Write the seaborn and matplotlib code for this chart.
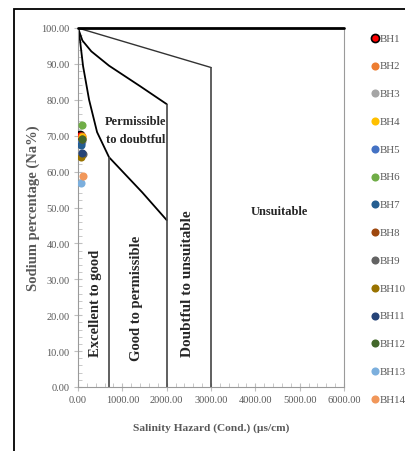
import matplotlib
matplotlib.use("Agg")
import matplotlib.pyplot as plt
import seaborn as sns
from matplotlib.patches import Rectangle
from matplotlib.ticker import MultipleLocator, FormatStrFormatter

# -------------------------------
# Data
# -------------------------------
wells = ["BH1", "BH2", "BH3", "BH4", "BH5", "BH6", "BH7",
         "BH8", "BH9", "BH10", "BH11", "BH12", "BH13", "BH14"]
cond = [40, 100, 90, 80, 60, 80, 70, 100, 110, 60, 80, 90, 60, 120]
na_pct = [70.3, 70.0, 68.5, 69.5, 68.0, 73.0, 67.5,
          69.0, 65.0, 64.0, 65.2, 69.2, 56.8, 58.8]
colors = ["#FF0000", "#ED7D31", "#A5A5A5", "#FFC000", "#4472C4", "#70AD47", "#255E91",
          "#9E480E", "#636363", "#997300", "#264478", "#43682B", "#7CAFDD", "#F1975A"]

# Wilcox diagram boundary lines
b1_x = [0, 45, 114, 250, 430, 700, 1450, 2000]
b1_y = [100, 96.6, 89.4, 80.0, 71.0, 64.0, 54.2, 46.5]
b2_x = [0, 100, 300, 700, 1400, 2000]
b2_y = [100, 96.5, 93.5, 89.5, 83.8, 78.8]
b3_x = [0, 3000]
b3_y = [100, 89]
top_x = [0, 6000]
top_y = [100, 100]
vlines_x = [700, 2000, 3000]
vlines_top = [64.0, 78.8, 89.0]

GREY = "#595959"
SERIF = ["Liberation Serif", "DejaVu Serif"]

sns.set_style("white")
plt.rcParams["font.family"] = SERIF

fig = plt.figure(figsize=(4.05, 4.52), dpi=100)
ax = fig.add_axes([78 / 405, 1 - 388 / 452, 266 / 405, 359 / 452])

# boundaries
sns.lineplot(x=b1_x, y=b1_y, ax=ax, color="black", linewidth=1.3, sort=False, estimator=None)
sns.lineplot(x=b2_x, y=b2_y, ax=ax, color="black", linewidth=1.3, sort=False, estimator=None)
sns.lineplot(x=b3_x, y=b3_y, ax=ax, color="#333333", linewidth=1.0, sort=False, estimator=None)
ax.plot(top_x, top_y, color="black", linewidth=2.0, clip_on=False, zorder=4)
ax.vlines(vlines_x, 0, vlines_top, color="#444444", linewidth=1.2)

# points
for w, x, y, c in zip(wells, cond, na_pct, colors):
    ec = "black" if w == "BH1" else c
    lw = 1.2 if w == "BH1" else 0
    sns.scatterplot(x=[x], y=[y], ax=ax, color=c, edgecolor=ec, linewidth=lw,
                    s=34, label=w, zorder=5)

# region labels
ax.text(1295, 71.6, "Permissible\nto doubtful", ha="center", va="center",
        fontsize=9, fontweight="bold", linespacing=1.7)
ax.text(386, 23.7, "Excellent to good", rotation=90, ha="center", va="center",
        fontsize=10.5, fontweight="bold")
ax.text(1318, 25, "Good to permissible", rotation=90, ha="center", va="center",
        fontsize=10.5, fontweight="bold")
ax.text(2477, 29, "Doubtful to unsuitable", rotation=90, ha="center", va="center",
        fontsize=11, fontweight="bold")
ax.text(4545, 49, "Unsuitable", ha="center", va="center",
        fontsize=9, fontweight="bold")

# axes
ax.set_xlim(0, 6000)
ax.set_ylim(0, 100)
ax.xaxis.set_major_locator(MultipleLocator(1000))
ax.xaxis.set_minor_locator(MultipleLocator(200))
ax.yaxis.set_major_locator(MultipleLocator(10))
ax.yaxis.set_minor_locator(MultipleLocator(2))
ax.xaxis.set_major_formatter(FormatStrFormatter("%.2f"))
ax.yaxis.set_major_formatter(FormatStrFormatter("%.2f"))
ax.tick_params(axis="both", which="major", direction="inout", length=6, width=0.8,
               color="#BFBFBF", labelcolor=GREY, labelsize=7.5, pad=3)
ax.tick_params(axis="both", which="minor", direction="in", length=3, width=0.6,
               color="#BFBFBF")
ax.tick_params(axis="x", which="both", bottom=True)
ax.tick_params(axis="y", which="both", left=True)
for side in ["left", "bottom", "right"]:
    ax.spines[side].set_color("#9A9A9A")
    ax.spines[side].set_linewidth(0.8)
ax.spines["top"].set_visible(False)

ax.set_xlabel("Salinity Hazard (Cond.) (µs/cm)", fontsize=8.2, fontweight="bold",
              color=GREY, labelpad=13)
ax.set_ylabel("Sodium percentage (Na%)", fontsize=10.5, fontweight="bold",
              color=GREY, labelpad=1)

leg = ax.legend(loc="upper left", bbox_to_anchor=(373 / 405, 1 - 34 / 452),
                bbox_transform=fig.transFigure, frameon=False, fontsize=7.8,
                handlelength=0.4, handletextpad=0.25, labelspacing=1.68,
                borderaxespad=0, borderpad=0)
for t in leg.get_texts():
    t.set_color(GREY)

# outer frame
fig.patches.append(Rectangle((14 / 405, -0.1), 1.2, 1 - 10 / 452 + 0.1,
                             transform=fig.transFigure, fill=False,
                             edgecolor="black", linewidth=1.3))

fig.savefig("out.png", dpi=100)
